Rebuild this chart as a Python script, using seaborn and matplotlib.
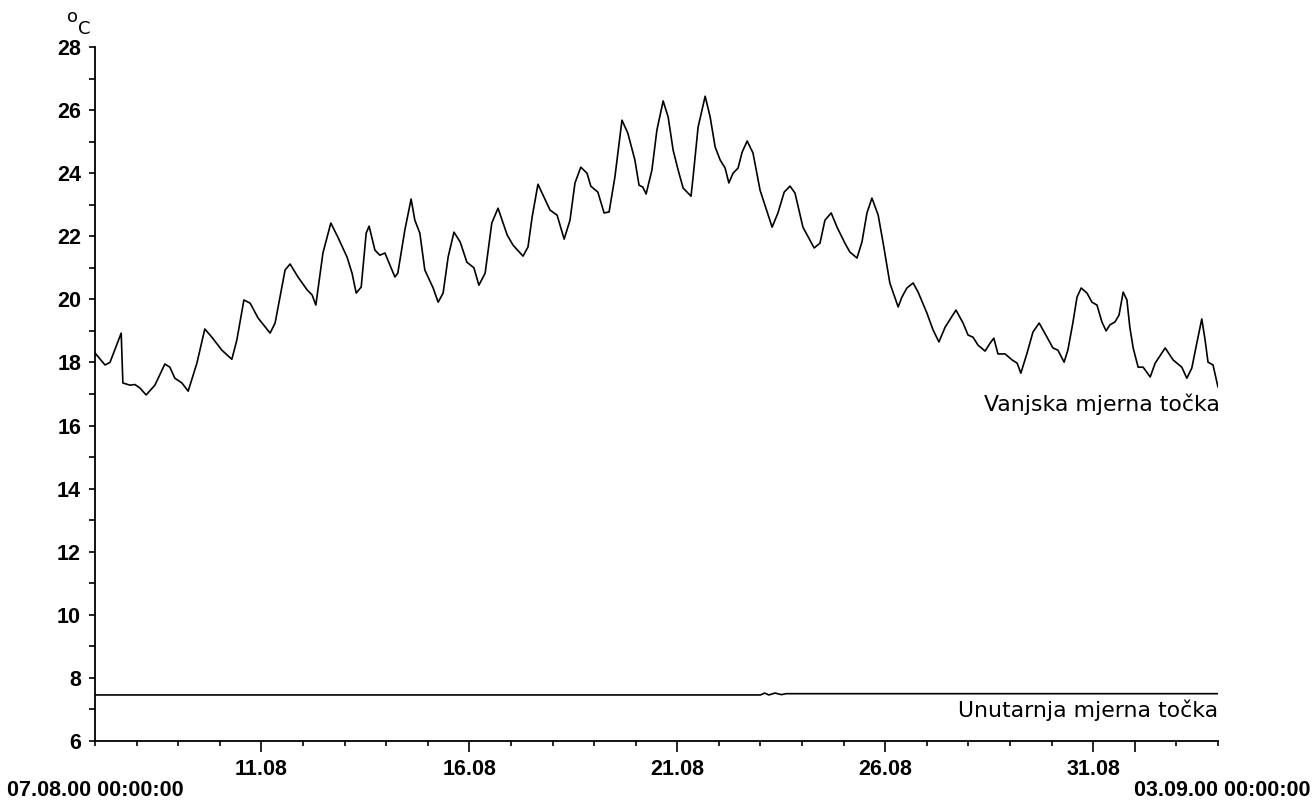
import numpy as np
import pandas as pd
import seaborn as sns
import matplotlib
matplotlib.use('Agg')
import matplotlib.pyplot as plt
import matplotlib.dates as mdates

# --- data (days after 07.08.2000 00:00, deg C) ---
outer_days = [
    0.00, 0.24, 0.36, 0.63, 0.67, 0.84, 0.96, 1.08, 1.23, 1.44, 1.68, 1.80,
    1.92, 2.09, 2.24, 2.45, 2.64, 2.81, 3.05, 3.29, 3.41, 3.58, 3.73, 3.92,
    4.21, 4.33, 4.57, 4.69, 4.88, 5.10, 5.22, 5.31, 5.48, 5.67, 5.84, 6.06,
    6.18, 6.28, 6.40, 6.52, 6.59, 6.73, 6.85, 6.97, 7.09, 7.21, 7.28, 7.45,
    7.60, 7.69, 7.81, 7.93, 8.13, 8.25, 8.37, 8.49, 8.63, 8.78, 8.94, 9.11,
    9.23, 9.38, 9.54, 9.69, 9.91, 10.05, 10.29, 10.41, 10.51, 10.65, 10.77,
    10.94, 11.11, 11.28, 11.42, 11.54, 11.68, 11.83, 11.92, 12.09, 12.24,
    12.36, 12.50, 12.67, 12.81, 12.98, 13.08, 13.17, 13.25, 13.39, 13.51,
    13.66, 13.78, 13.90, 14.02, 14.14, 14.33, 14.38, 14.50, 14.67, 14.79,
    14.91, 15.03, 15.15, 15.24, 15.34, 15.46, 15.56, 15.68, 15.82, 15.99,
    16.16, 16.28, 16.42, 16.57, 16.71, 16.83, 17.02, 17.29, 17.43, 17.55,
    17.70, 17.84, 18.03, 18.15, 18.32, 18.44, 18.56, 18.68, 18.83, 18.95,
    19.11, 19.31, 19.40, 19.52, 19.67, 19.79, 20.00, 20.15, 20.29, 20.44,
    20.70, 20.87, 20.99, 21.11, 21.23, 21.40, 21.52, 21.61, 21.71, 21.88,
    22.05, 22.17, 22.26, 22.41, 22.55, 22.70, 22.89, 23.03, 23.15, 23.30,
    23.39, 23.51, 23.61, 23.71, 23.85, 23.97, 24.09, 24.21, 24.31, 24.40,
    24.52, 24.62, 24.72, 24.81, 24.88, 24.96, 25.08, 25.20, 25.37, 25.49,
    25.73, 25.92, 26.13, 26.25, 26.37, 26.49, 26.61, 26.69, 26.76, 26.88,
    27.00,
]
outer_temp = [
    18.30, 17.92, 18.00, 18.93, 17.35, 17.28, 17.30, 17.19, 16.97, 17.28,
    17.95, 17.85, 17.50, 17.35, 17.09, 17.98, 19.06, 18.80, 18.39, 18.10,
    18.71, 19.98, 19.88, 19.41, 18.93, 19.25, 20.93, 21.12, 20.71, 20.30,
    20.14, 19.82, 21.47, 22.42, 21.97, 21.34, 20.83, 20.20, 20.39, 22.10,
    22.32, 21.56, 21.40, 21.47, 21.09, 20.71, 20.83, 22.20, 23.18, 22.51,
    22.10, 20.93, 20.36, 19.91, 20.20, 21.34, 22.13, 21.82, 21.18, 21.00,
    20.45, 20.83, 22.42, 22.89, 22.04, 21.72, 21.37, 21.66, 22.61, 23.65,
    23.31, 22.83, 22.67, 21.91, 22.51, 23.69, 24.19, 24.00, 23.59, 23.40,
    22.74, 22.77, 23.88, 25.68, 25.27, 24.42, 23.62, 23.56, 23.34, 24.10,
    25.37, 26.29, 25.78, 24.73, 24.10, 23.53, 23.27, 23.88, 25.46, 26.44,
    25.78, 24.83, 24.42, 24.16, 23.69, 24.00, 24.16, 24.67, 25.02, 24.64,
    23.46, 22.77, 22.29, 22.74, 23.40, 23.59, 23.37, 22.29, 21.63, 21.78,
    22.51, 22.74, 22.29, 21.78, 21.50, 21.31, 21.82, 22.74, 23.21, 22.67,
    21.78, 20.52, 19.76, 20.07, 20.36, 20.52, 20.23, 19.57, 19.03, 18.65,
    19.12, 19.66, 19.25, 18.87, 18.80, 18.55, 18.36, 18.61, 18.77, 18.27,
    18.27, 18.08, 17.98, 17.66, 18.30, 18.96, 19.25, 18.80, 18.46, 18.39,
    18.01, 18.39, 19.25, 20.07, 20.36, 20.20, 19.91, 19.82, 19.28, 19.00,
    19.19, 19.28, 19.50, 20.23, 19.98, 19.12, 18.46, 17.85, 17.85, 17.54,
    17.98, 18.46, 18.08, 17.85, 17.50, 17.82, 18.61, 19.38, 18.71, 18.01,
    17.92, 17.22,
]
inner_days = [0.00, 16.00, 16.10, 16.20, 16.35, 16.50, 16.62, 27.00]
inner_temp = [7.46, 7.46, 7.52, 7.46, 7.52, 7.47, 7.50, 7.50]

tick_days = ['2000-08-11', '2000-08-16', '2000-08-21', '2000-08-26',
             '2000-08-31', '2000-09-01']
tick_labels = ['11.08', '16.08', '21.08', '26.08', '31.08', '']
start_label = '07.08.00 00:00:00'
end_label = '03.09.00 00:00:00'
outer_name = 'Vanjska mjerna točka'
inner_name = 'Unutarnja mjerna točka'

start = pd.Timestamp('2000-08-07')
end = pd.Timestamp('2000-09-03')
outer = pd.DataFrame({'time': start + pd.to_timedelta(outer_days, unit='D'),
                      'temp': outer_temp})
inner = pd.DataFrame({'time': start + pd.to_timedelta(inner_days, unit='D'),
                      'temp': inner_temp})

sns.set_style('ticks')
plt.rcParams['font.family'] = ['Liberation Sans', 'DejaVu Sans']
plt.rcParams['text.color'] = 'black'
plt.rcParams['xtick.color'] = 'black'
plt.rcParams['ytick.color'] = 'black'
plt.rcParams['xtick.labelcolor'] = 'black'
plt.rcParams['ytick.labelcolor'] = 'black'

fig = plt.figure(figsize=(13.15, 8), dpi=100)
ax = fig.add_axes([95 / 1315, 59 / 800, 1123 / 1315, 694 / 800])

sns.lineplot(data=outer, x='time', y='temp', color='black', linewidth=1.2,
             estimator=None, ax=ax)
sns.lineplot(data=inner, x='time', y='temp', color='black', linewidth=1.2,
             estimator=None, ax=ax)

ax.set_xlim(start, end)
ax.set_ylim(6, 28)
ax.set_xlabel('')
ax.set_ylabel('')

# axes styling
for s in ['top', 'right']:
    ax.spines[s].set_visible(False)
for s in ['left', 'bottom']:
    ax.spines[s].set_color('black')
    ax.spines[s].set_linewidth(1.3)

ax.set_yticks(np.arange(6, 29, 2))
ax.set_yticks(np.arange(7, 28, 2), minor=True)
ax.set_xticks(pd.to_datetime(tick_days))
ax.set_xticklabels(tick_labels)
ax.xaxis.set_minor_locator(mdates.DayLocator())

ax.tick_params(axis='y', which='both', length=4, width=1.2, pad=6,
               colors='black', labelsize=15.5)
ax.tick_params(axis='x', which='major', length=8, width=1.2, pad=5,
               colors='black', labelsize=15.5)
ax.tick_params(axis='x', which='minor', length=3.5, width=1.2, colors='black')
for lab in ax.get_xticklabels() + ax.get_yticklabels():
    lab.set_fontweight('bold')

# series names
ax.text(1.002, 16.68, outer_name, transform=ax.get_yaxis_transform(),
        ha='right', va='center', fontsize=15.8, family='DejaVu Sans',
        color='black')
ax.text(1.0, 6.98, inner_name, transform=ax.get_yaxis_transform(),
        ha='right', va='center', fontsize=15.8, family='DejaVu Sans',
        color='black')

# unit label
fig.text(67 / 1315, 1 - 17 / 800, 'o', ha='left', va='center', fontsize=13,
         family='DejaVu Sans', color='black')
fig.text(78 / 1315, 1 - 29 / 800, 'C', ha='left', va='center', fontsize=13,
         family='DejaVu Sans', color='black')

# start / end labels
fig.text(7 / 1315, 1 - 790 / 800, start_label, ha='left', va='center',
         fontsize=15.5, fontweight='bold', color='black')
fig.text(1311 / 1315, 1 - 790 / 800, end_label, ha='right', va='center',
         fontsize=15.5, fontweight='bold', color='black')

fig.savefig('out.png', dpi=100, facecolor='white')
